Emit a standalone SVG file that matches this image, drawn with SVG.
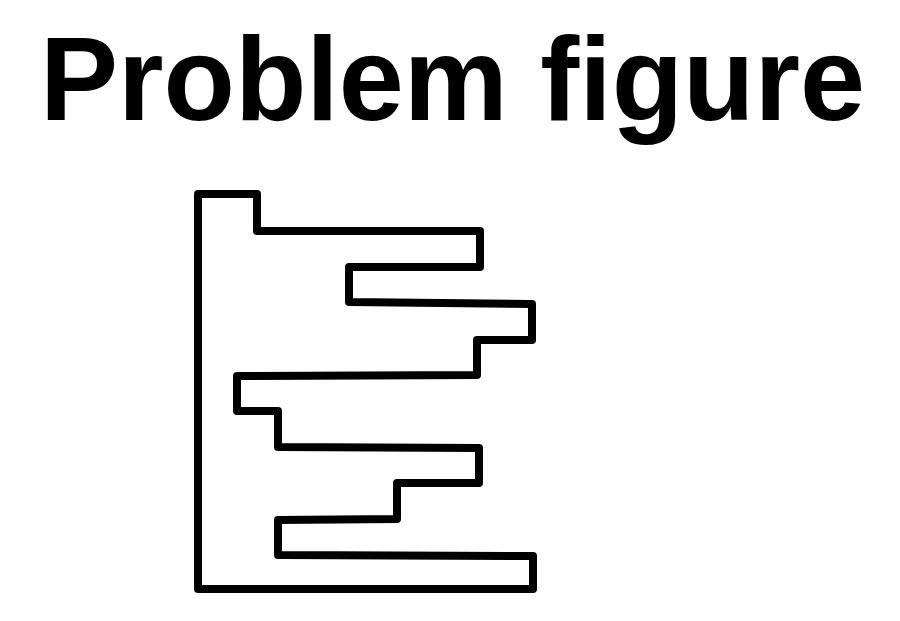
<svg xmlns="http://www.w3.org/2000/svg" width="900" height="621" viewBox="0 0 900 621">
<style>
.title{font-family:"Liberation Sans",Arial,sans-serif;font-weight:bold;font-size:118px;fill:#000}
.outline{fill:none;stroke:#000;stroke-width:8;stroke-linejoin:round}
</style>
<rect width="900" height="621" fill="#fff"/>
<text class="title" x="40" y="120" textLength="825" lengthAdjust="spacingAndGlyphs">Problem figure</text>
<g id="figure">
<path class="outline" d="M198,194 L257,194 L257,231 L480,231 L480,267 L349,267 L349,302 L532,304 L532,340 L477,340 L477,375 L237,376 L237,411 L278,411 L278,447 L479,448 L479,483 L397,483 L397,519 L278,520 L278,555 L533,556 L533,589 L198,589 Z"/>
</g>
</svg>
